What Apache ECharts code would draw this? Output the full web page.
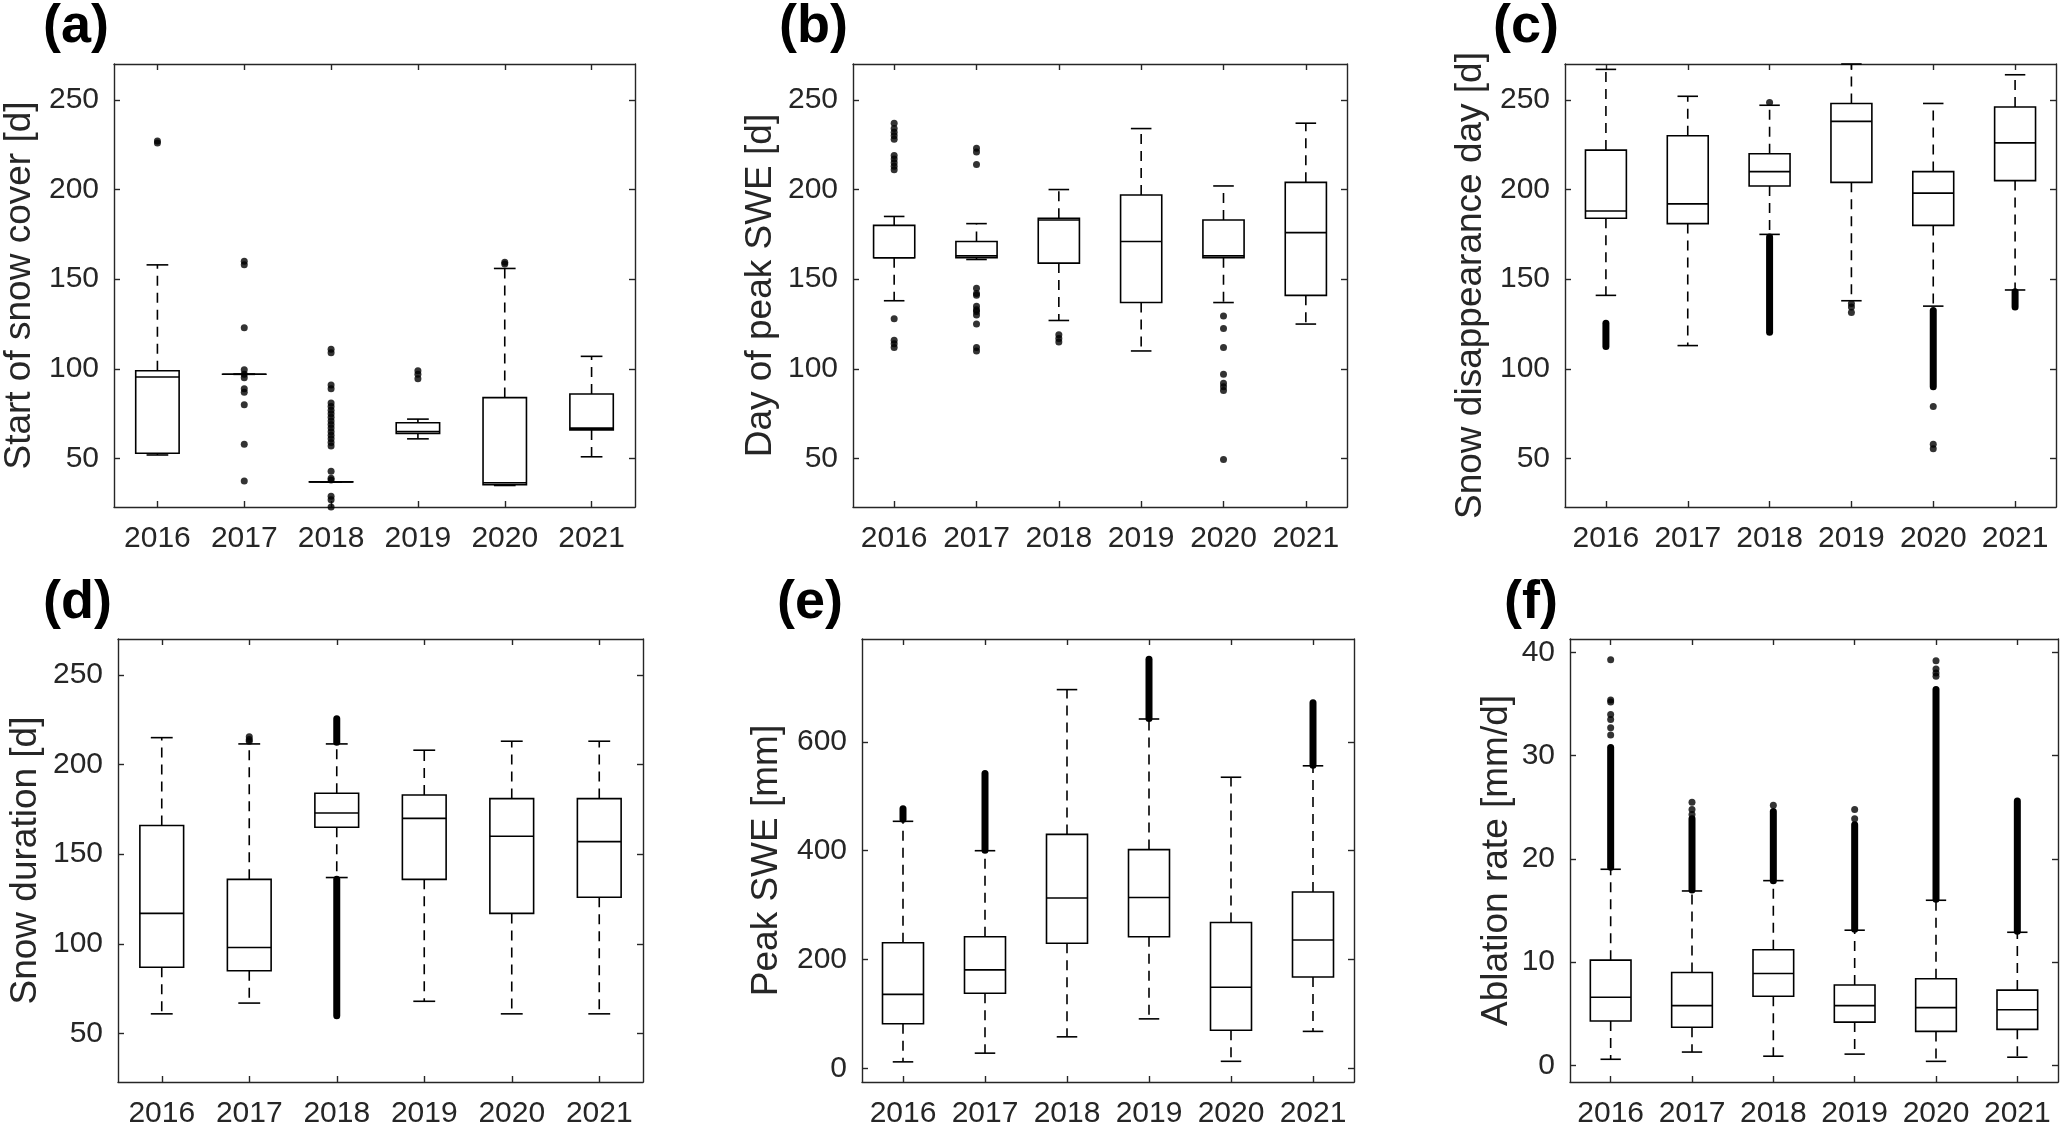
<!DOCTYPE html>
<html>
<head>
<meta charset="utf-8">
<script src="https://cdn.jsdelivr.net/npm/echarts@6/dist/echarts.min.js"></script>
<style>
html,body{margin:0;padding:0;background:#ffffff;}
#chart{width:2067px;height:1129px;}
</style>
</head>
<body>
<div id="chart"></div>
<script>
// ---------------- DATA ----------------
const years = ['2016', '2017', '2018', '2019', '2020', '2021'];

// Box statistics per year: [lower whisker, Q1, median, Q3, upper whisker]
const startSnowBox = [
  [52, 53, 95.5, 99, 158],
  [97, 97, 97, 97, 97],
  [37, 37, 37, 37, 37],
  [61, 64, 65, 70, 72],
  [35, 35.5, 36.5, 84, 156],
  [51, 66, 67, 86, 107]
];
const startSnowOutliers = [
  [226, 227],
  [160, 158, 123, 99.5, 97, 95, 89, 87, 80, 58, 37.5],
  [111, 109, 91, 89, 81, 79, 77, 75, 73, 71, 69, 67, 65, 63, 61, 59, 57, 43, 39, 38, 29, 27, 23],
  [99, 97, 94.5],
  [158.5, 159.5],
  []
];
const startSnowBands = [[], [], [], [], [], []];

const peakDayBox = [
  [138, 162, 162, 180, 185],
  [161, 162, 163, 171, 181],
  [127, 159, 183, 184, 200],
  [110, 137, 171, 197, 234],
  [137, 162, 163, 183, 202],
  [125, 141, 176, 204, 237]
];
const peakDayOutliers = [
  [237, 234, 232, 230, 228, 219, 217, 215, 213, 211, 128, 116, 114, 112],
  [223, 221, 214, 145, 142, 141, 135, 133, 132, 130, 125, 112, 110],
  [119, 117, 115],
  [],
  [129.5, 122.5, 112, 97, 92, 90, 88, 49.5],
  []
];
const peakDayBands = [[], [], [], [], [], []];

const disappearBox = [
  [141, 184, 188, 222, 267],
  [113, 181, 192, 230, 252],
  [175, 202, 210, 220, 247],
  [138, 204, 238, 248, 270],
  [135, 180, 198, 210, 248],
  [144, 205, 226, 246, 264]
];
const disappearOutliers = [[], [], [248.5], [136.5, 134.5, 131.5], [79, 58, 55.5], []];
// dense outlier runs: [from, to]
const disappearBands = [[[112.5, 125.5]], [], [[120.5, 173.5]], [], [[90, 132.5]], [[134.5, 143]]];

const durationBox = [
  [61, 87, 117, 166, 215],
  [67, 85, 98, 136, 211.5],
  [137, 165, 173, 184, 211.5],
  [68, 136, 170, 183, 208],
  [61, 117, 160, 181, 213],
  [61, 126, 157, 181, 213]
];
const durationOutliers = [[], [213, 214, 215.5], [], [], [], []];
const durationBands = [[], [], [[212.5, 225.5], [60, 136]], [], [], []];

const peakSweBox = [
  [12, 82, 136, 231, 454],
  [28, 138, 181, 242, 400],
  [58, 230, 313, 430, 696],
  [91, 242, 314, 402, 642],
  [13, 70, 149, 268, 535],
  [68, 168, 236, 324, 556]
];
const peakSweOutliers = [[], [], [], [], [], []];
const peakSweBands = [[[458, 477]], [[401, 542]], [], [[643, 752]], [], [[557, 672]]];

const ablationBox = [
  [0.6, 4.3, 6.6, 10.2, 19.0],
  [1.3, 3.7, 5.8, 9.0, 16.9],
  [0.9, 6.7, 8.9, 11.2, 17.9],
  [1.1, 4.2, 5.8, 7.8, 13.1],
  [0.4, 3.3, 5.6, 8.4, 16.0],
  [0.8, 3.5, 5.4, 7.3, 12.9]
];
const ablationOutliers = [
  [39.3, 35.4, 35.2, 34.0, 33.5, 32.7, 32.0],
  [25.5, 24.8, 24.3],
  [25.2],
  [24.8, 23.9],
  [39.2, 38.4, 38.0, 37.7],
  []
];
const ablationBands = [[[19.2, 30.8]], [[17.0, 23.9]], [[17.9, 24.6]], [[13.2, 23.3]], [[16.1, 36.4]], [[13.0, 25.6]]];

// axis ranges and tick labels
const dayRange = [23, 270];
const dayTicks = [50, 100, 150, 200, 250];
const sweRange = [-25, 789];
const sweTicks = [0, 200, 400, 600];
const ablationRange = [-1.6, 41.3];
const ablationTicks = [0, 10, 20, 30, 40];

const panelLetters = ['(a)', '(b)', '(c)', '(d)', '(e)', '(f)'];
const axisNames = ['Start of snow cover [d]', 'Day of peak SWE [d]', 'Snow disappearance day [d]',
                   'Snow duration [d]', 'Peak SWE [mm]', 'Ablation rate [mm/d]'];

// ---------------- BUILD ----------------
const panels = [
  {box: startSnowBox, out: startSnowOutliers, bands: startSnowBands, range: dayRange, ticks: dayTicks},
  {box: peakDayBox, out: peakDayOutliers, bands: peakDayBands, range: dayRange, ticks: dayTicks},
  {box: disappearBox, out: disappearOutliers, bands: disappearBands, range: dayRange, ticks: dayTicks},
  {box: durationBox, out: durationOutliers, bands: durationBands, range: dayRange, ticks: dayTicks},
  {box: peakSweBox, out: peakSweOutliers, bands: peakSweBands, range: sweRange, ticks: sweTicks},
  {box: ablationBox, out: ablationOutliers, bands: ablationBands, range: ablationRange, ticks: ablationTicks}
];

const layout = [
  {left: 111, top: 64, width: 524, height: 443, nameGap: 76, lx: 43, ly: 0},
  {left: 853, top: 64, width: 494, height: 443, nameGap: 74, lx: 779, ly: 0},
  {left: 1565, top: 64, width: 491, height: 443, nameGap: 76, lx: 1493, ly: 0},
  {left: 118, top: 639, width: 525, height: 445, nameGap: 74, lx: 43, ly: 576},
  {left: 862, top: 639, width: 492, height: 445, nameGap: 77, lx: 777, ly: 576},
  {left: 1570, top: 639, width: 488, height: 445, nameGap: 55, lx: 1504, ly: 576}
];

const FONT = "'Liberation Sans', Arial, sans-serif";
const AXIS_COLOR = '#262626';
const axisLineStyle = {color: AXIS_COLOR, width: 1.4};

const grid = [], xAxis = [], yAxis = [], series = [], title = [];

panels.forEach((p, i) => {
  const L = layout[i];
  grid.push({left: L.left, top: L.top, width: L.width, height: L.height});
  title.push({
    text: panelLetters[i], left: L.lx, top: L.ly, padding: 0,
    textStyle: {fontSize: 54, fontWeight: 'bold', fontFamily: FONT, color: '#000'}
  });
  // bottom category axis
  xAxis.push({
    type: 'category', gridIndex: i, data: years, position: 'bottom', boundaryGap: true,
    axisLine: {show: true, onZero: false, lineStyle: axisLineStyle},
    axisTick: {show: true, inside: true, length: 6, alignWithLabel: true, lineStyle: axisLineStyle},
    axisLabel: {interval: 0, hideOverlap: false, fontSize: 30, color: AXIS_COLOR, fontFamily: FONT, margin: 17},
    splitLine: {show: false}
  });
  // top axis (ticks only, closes the box)
  xAxis.push({
    type: 'category', gridIndex: i, data: years, position: 'top', boundaryGap: true,
    axisLine: {show: true, onZero: false, lineStyle: axisLineStyle},
    axisTick: {show: true, inside: true, length: 6, alignWithLabel: true, interval: 0, lineStyle: axisLineStyle},
    axisLabel: {show: false}, splitLine: {show: false}
  });
  yAxis.push({
    type: 'value', gridIndex: i, position: 'left', min: p.range[0], max: p.range[1],
    axisLine: {show: true, onZero: false, lineStyle: axisLineStyle},
    axisTick: {show: true, inside: true, length: 6, customValues: p.ticks, lineStyle: axisLineStyle},
    axisLabel: {customValues: p.ticks, fontSize: 30, color: AXIS_COLOR, fontFamily: FONT, margin: 15},
    splitLine: {show: false},
    name: axisNames[i], nameLocation: 'middle', nameGap: L.nameGap, nameRotate: 90,
    nameTextStyle: {fontSize: 37, color: AXIS_COLOR, fontFamily: FONT}
  });
  yAxis.push({
    type: 'value', gridIndex: i, position: 'right', min: p.range[0], max: p.range[1],
    axisLine: {show: true, onZero: false, lineStyle: axisLineStyle},
    axisTick: {show: true, inside: true, length: 6, customValues: p.ticks, lineStyle: axisLineStyle},
    axisLabel: {show: false}, splitLine: {show: false}
  });

  const xi = i * 2, yi = i * 2;

  // boxes + whiskers
  series.push({
    type: 'custom', coordinateSystem: 'cartesian2d', xAxisIndex: xi, yAxisIndex: yi,
    data: p.box.map((b, k) => [years[k], b[0], b[1], b[2], b[3], b[4]]),
    encode: {x: 0, y: [1, 2, 3, 4, 5]},
    clip: false, silent: true, z: 3,
    renderItem: function (params, api) {
      const c = api.value(0);
      const band = api.size([1, 0])[0];
      const bw = band * 0.5, cw = band * 0.25;
      const pMin = api.coord([c, api.value(1)]);
      const pQ1 = api.coord([c, api.value(2)]);
      const pMed = api.coord([c, api.value(3)]);
      const pQ3 = api.coord([c, api.value(4)]);
      const pMax = api.coord([c, api.value(5)]);
      const cx = pMed[0];
      const solid = {stroke: '#000', lineWidth: 1.6, fill: null};
      const dashed = {stroke: '#000', lineWidth: 1.6, lineDash: [10, 7], fill: null};
      const children = [];
      if (pMax[1] < pQ3[1] - 0.5) {
        children.push({type: 'line', shape: {x1: cx, y1: pQ3[1], x2: cx, y2: pMax[1]}, style: dashed});
      }
      if (pMin[1] > pQ1[1] + 0.5) {
        children.push({type: 'line', shape: {x1: cx, y1: pQ1[1], x2: cx, y2: pMin[1]}, style: dashed});
      }
      children.push({type: 'line', shape: {x1: cx - cw / 2, y1: pMax[1], x2: cx + cw / 2, y2: pMax[1]}, style: solid});
      children.push({type: 'line', shape: {x1: cx - cw / 2, y1: pMin[1], x2: cx + cw / 2, y2: pMin[1]}, style: solid});
      children.push({type: 'rect', shape: {x: cx - bw / 2, y: pQ3[1], width: bw, height: Math.max(pQ1[1] - pQ3[1], 0.01)}, style: solid});
      children.push({type: 'line', shape: {x1: cx - bw / 2, y1: pMed[1], x2: cx + bw / 2, y2: pMed[1]}, style: solid});
      return {type: 'group', children: children};
    }
  });

  // dense outlier runs
  const bandData = [];
  p.bands.forEach((list, k) => list.forEach(r => bandData.push([years[k], r[0], r[1]])));
  if (bandData.length) {
    series.push({
      type: 'custom', coordinateSystem: 'cartesian2d', xAxisIndex: xi, yAxisIndex: yi,
      data: bandData, encode: {x: 0, y: [1, 2]}, clip: false, silent: true, z: 4,
      renderItem: function (params, api) {
        const a = api.coord([api.value(0), api.value(1)]);
        const b = api.coord([api.value(0), api.value(2)]);
        return {type: 'line', shape: {x1: a[0], y1: a[1], x2: b[0], y2: b[1]},
                style: {stroke: '#000', lineWidth: 7, lineCap: 'round'}};
      }
    });
  }

  // individual outliers
  const outData = [];
  p.out.forEach((list, k) => list.forEach(v => outData.push([years[k], v])));
  if (outData.length) {
    series.push({
      type: 'scatter', xAxisIndex: xi, yAxisIndex: yi, data: outData,
      symbol: 'circle', symbolSize: 7, itemStyle: {color: '#000'}, silent: true, z: 4, clip: false
    });
  }
});

const chart = echarts.init(document.getElementById('chart'), null, {renderer: 'canvas'});
chart.setOption({
  backgroundColor: '#ffffff',
  animation: false,
  title: title,
  grid: grid,
  xAxis: xAxis,
  yAxis: yAxis,
  series: series
});
</script>
</body>
</html>
